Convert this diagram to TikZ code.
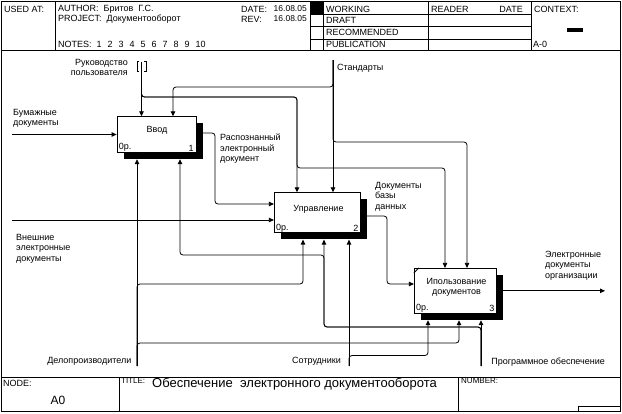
\documentclass[tikz,border=0pt]{standalone}
\usepackage{fontspec}
\setmainfont{Liberation Sans}
\usetikzlibrary{arrows.meta,shadows}
\begin{document}
\begin{tikzpicture}[x=1pt,y=-1pt,
  txt/.style={font=\fontsize{9}{10.5}\selectfont, inner sep=0pt},
  lt/.style={txt, anchor=west},
  ml/.style={txt, anchor=north west, align=left},
  mr/.style={txt, anchor=north east, align=right},
  frm/.style={line width=0.8pt},
  ln/.style={line width=0.8pt, rounded corners=3pt},
  arr/.style={ln, -{Triangle[length=5pt,width=4.5pt]}},
  act/.style={draw, line width=0.8pt, fill=white, inner sep=0pt,
    general shadow={fill=black, shadow xshift=6.5pt, shadow yshift=-6.5pt}},
]
\useasboundingbox (0,0) rectangle (622,413);
% ---- frame ----
\draw[frm] (1,1) rectangle (620.5,411.5);
\draw[frm] (1,50) -- (620.5,50);
\draw[frm] (55,1) -- (55,50);
\draw[frm] (310,1) -- (310,50);
\draw[frm] (323,1) -- (323,50);
\draw[frm] (428,1) -- (428,50);
\draw[frm] (531,1) -- (531,50);
\foreach \yy in {14,26.7,39.3} \draw[frm] (310,\yy) -- (531,\yy);
\fill (310,1) rectangle (323,14);
\fill (567,28) rectangle (583,32);
\draw[frm] (1,377.5) -- (620.5,377.5);
\draw[frm] (119,377.5) -- (119,411.5);
\draw[frm] (458,377.5) -- (458,411.5);
\draw[frm] (620.5,406.5) -- (578,406.5) -- (578,411.5);
% ---- header texts ----
\node[lt] (usedat) at (4,9) {USED AT:};
\node[lt] (author) at (58,9) {AUTHOR:\ \ Бритов\ \ Г.С.};
\node[lt] (project) at (58,19) {PROJECT:\ \ Документооборот};
\node[lt] (notes) at (58,44) {NOTES:\hspace{5pt}1\hspace{6pt}2\hspace{6pt}3\hspace{6pt}4\hspace{6pt}5\hspace{6pt}6\hspace{6pt}7\hspace{6pt}8\hspace{6pt}9\hspace{6pt}10};
\node[lt] (date) at (241,9) {DATE:};
\node[txt, anchor=east, font=\fontsize{8.5}{10}\selectfont] (dateval) at (307,9) {16.08.05};
\node[lt] (rev) at (241,19) {REV:};
\node[txt, anchor=east, font=\fontsize{8.5}{10}\selectfont] (revval) at (307,19) {16.08.05};
\node[lt] (working) at (326,9) {WORKING};
\node[lt] (draft) at (326,20.5) {DRAFT};
\node[lt] (recommended) at (326,32.5) {RECOMMENDED};
\node[lt] (publication) at (326,44.5) {PUBLICATION};
\node[lt] (reader) at (431,9) {READER};
\node[txt, anchor=east] (rdate) at (523,9) {DATE};
\node[lt] (context) at (534,9) {CONTEXT:};
\node[lt] (actx) at (533,44) {A-0};
% ---- footer texts ----
\node[lt] (nodel) at (3,383) {NODE:};
\node[txt, font=\fontsize{12}{14}\selectfont] (nodeval) at (58,400) {A0};
\node[lt, font=\fontsize{8}{9}\selectfont] (titlel) at (121,381) {TITLE:};
\node[lt, font=\fontsize{13}{15}\selectfont] (title) at (152,384.5) {Обеспечение\ \ электронного документооборота};
\node[lt, font=\fontsize{8}{9}\selectfont] (numberl) at (461,381) {NUMBER:};
% ---- activity boxes ----
\node[act, minimum width=79pt, minimum height=35.6pt] (b1) at (156.5,134.5) {};
\node[act, minimum width=86.4pt, minimum height=40pt] (b2) at (317.5,212.7) {};
\node[act, minimum width=82.4pt, minimum height=45pt] (b3) at (455.5,290.8) {};
\draw[frm] ([yshift=-5pt]b3.north west) -- ([xshift=5pt]b3.north west);
\node[txt] (b1t) at (157,130) {Ввод};
\node[txt] (b2t) at (318.5,209.5) {Управление};
\node[txt, align=center] (b3t) at (456.5,287.3) {Ипользование\\документов};
\node[txt, anchor=south west] (b1c) at ([xshift=2pt,yshift=1pt]b1.south west) {0р.};
\node[txt, anchor=south east] (b1n) at ([xshift=-2.5pt,yshift=1.5pt]b1.south east) {1};
\node[txt, anchor=south west] (b2c) at ([xshift=2pt,yshift=1pt]b2.south west) {0р.};
\node[txt, anchor=south east] (b2n) at ([xshift=-2.5pt,yshift=1.5pt]b2.south east) {2};
\node[txt, anchor=south west] (b3c) at ([xshift=2pt,yshift=1pt]b3.south west) {0р.};
\node[txt, anchor=south east] (b3n) at ([xshift=-2.5pt,yshift=1.5pt]b3.south east) {3};
\coordinate (b1s) at ([yshift=-6.5pt]b1.south);
\coordinate (b2s) at ([yshift=-6.5pt]b2.south);
\coordinate (b3s) at ([yshift=-6.5pt]b3.south);
% ---- arrow labels ----
\node[mr] (rukl) at (128,59) {Руководство\\пользователя};
\node[lt] (stdl) at (337,68) {Стандарты};
\node[ml] (buml) at (13,109) {Бумажные\\документы};
\node[ml] (rasl) at (220,134) {Распознанный\\электронный\\документ};
\node[ml] (vnl) at (16,234) {Внешние\\электронные\\документы};
\node[ml] (dbl) at (375,182) {Документы\\базы\\данных};
\node[ml] (outl) at (545,251) {Электронные\\документы\\организации};
\node[txt, anchor=east] (dell) at (131.5,361.7) {Делопроизводители};
\node[lt] (sotl) at (292,361.7) {Сотрудники};
\node[txt, anchor=east] (progl) at (605,361.7) {Программное обеспечение};
% ---- free ends ----
\coordinate (ruk) at (141.5,62);
\coordinate (std) at (333,60);
\coordinate (bum) at (12,134.5);
\coordinate (ext) at (12,220);
\coordinate (del) at (137,366);
\coordinate (sot) at (349,366);
\coordinate (prog) at (481,366);
\coordinate (out) at (605,290.8);
% tunnel brackets
\draw[frm] (139,61) -- (137,61) -- (137,71.5) -- (139,71.5);
\draw[frm] (144,61) -- (146,61) -- (146,71.5) -- (144,71.5);
% ---- connectors ----
\draw[arr] (ruk) -- (ruk |- b1.north);
\draw[arr] (ruk) -- (141.5,97) -- (297,97) -- (297,0 |- b2.north);
\draw[arr] (ruk) -- (141.5,97) -- (297,97) -- (297,168) -- (445,168) -- (445,0 |- b3.north);
\draw[arr] (std) -- (std |- b2.north);
\draw[arr] (std) -- (333,87) -- (173,87) -- (173,0 |- b1.north);
\draw[arr] (std) -- (333,142) -- (467,142) -- (467,0 |- b3.north);
\draw[arr] (bum) -- (b1.west);
\draw[arr] (b1.east |- 0,133) -- (215,133) -- (215,204) -- (b2.west |- 0,204);
\draw[arr] (ext) -- (b2.west |- ext);
\draw[arr] (b2.east |- 0,216) -- (387,216) -- (387,284) -- (b3.west |- 0,284);
\draw[arr] (b3.east) -- (out);
\draw[arr] (del) -- (del |- b1s);
\draw[arr] (del) -- (137,284) -- (303,284) -- (303,0 |- b2s);
\draw[arr] (del) -- (137,343) -- (459,343) -- (459,0 |- b3s);
\draw[arr] (prog) -- (prog |- b3s);
\draw[arr] (prog) -- (481,327) -- (324,327) -- (324,0 |- b2s);
\draw[arr] (prog) -- (481,327) -- (324,327) -- (324,255) -- (180,255) -- (180,0 |- b1s);
\draw[arr] (sot) -- (sot |- b2s);
\draw[arr] (sot) -- (349,355.5) -- (428,355.5) -- (428,0 |- b3s);
\end{tikzpicture}
\end{document}
